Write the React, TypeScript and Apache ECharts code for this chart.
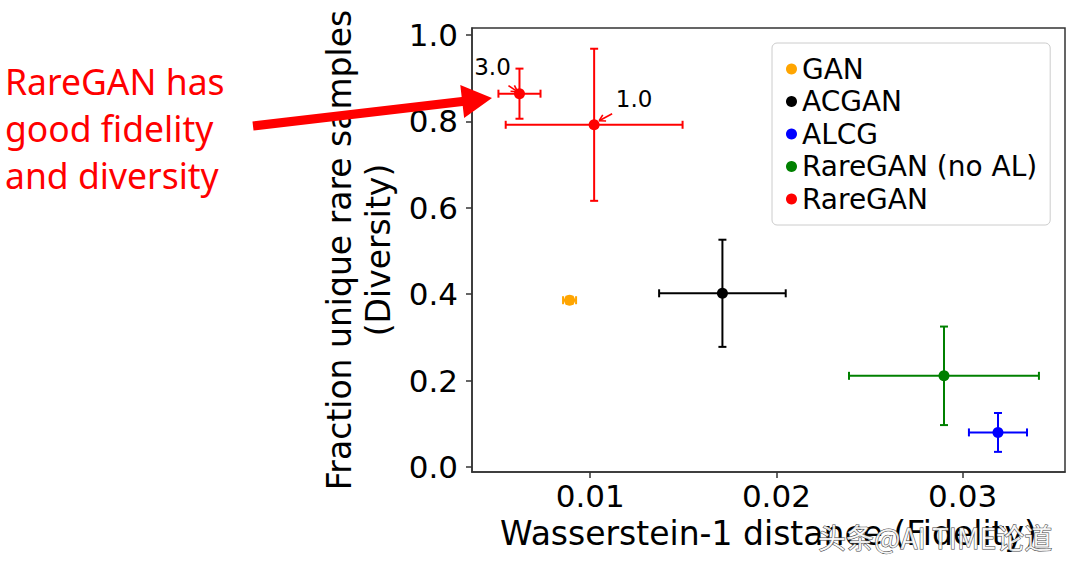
import React, { useEffect, useRef } from "react";
import * as echarts from "echarts";

// ---- data ----
const methods = ["GAN", "ACGAN", "ALCG", "RareGAN (no AL)", "RareGAN"];
const colors = ["#FFA500", "#000000", "#0000FF", "#008000", "#FF0000"];
// [x (W1 distance), y (diversity), xErr, yErr]
const ganData = [[0.00889, 0.386, 0.00035, 0.008]];
const acganData = [[0.0171, 0.402, 0.0034, 0.124]];
const alcgData = [[0.0319, 0.08, 0.00156, 0.045]];
const noAlData = [[0.029, 0.211, 0.0051, 0.114]];
const rareganData = [
  [0.01021, 0.792, 0.00475, 0.176],
  [0.0062, 0.864, 0.00113, 0.058],
];
const rareganLabels = ["1.0", "3.0"];
const xTicks = [0.01, 0.02, 0.03];
const yTicks = [0, 0.2, 0.4, 0.6, 0.8, 1.0];
const xRange = [0.00365, 0.0355];
const yRange = [-0.0116, 1.016];

const FONT = "DejaVu Sans";
// label offsets (px) relative to the point: text centre, arrow start, arrow end
const annot: Record<string, { t: number[]; s: number[]; e: number[] }> = {
  "1.0": { t: [40, -26], s: [18, -11], e: [5, -4] },
  "3.0": { t: [-27, -27], s: [-11, -8], e: [-2, -2] },
};

function arrowLines(s: number[], e: number[], color: string) {
  const dx = e[0] - s[0];
  const dy = e[1] - s[1];
  const len = Math.sqrt(dx * dx + dy * dy);
  const ux = dx / len, uy = dy / len;
  const hl = 6, hw = 3.5;
  const bx = e[0] - ux * hl, by = e[1] - uy * hl;
  const nx = -uy, ny = ux;
  const st = { stroke: color, lineWidth: 1.6 };
  return [
    { type: "line", shape: { x1: s[0], y1: s[1], x2: e[0], y2: e[1] }, style: st },
    { type: "line", shape: { x1: bx + nx * hw, y1: by + ny * hw, x2: e[0], y2: e[1] }, style: st },
    { type: "line", shape: { x1: bx - nx * hw, y1: by - ny * hw, x2: e[0], y2: e[1] }, style: st },
  ];
}

function makeRender(labels?: string[]) {
  return (params: any, api: any) => {
    const x = api.value(0), y = api.value(1), xe = api.value(2), ye = api.value(3);
    const color = api.visual("color");
    const c = api.coord([x, y]);
    const l = api.coord([x - xe, y]);
    const r = api.coord([x + xe, y]);
    const t = api.coord([x, y + ye]);
    const b = api.coord([x, y - ye]);
    const cap = 4;
    const st = { stroke: color, lineWidth: 2 };
    const children: any[] = [
      { type: "line", shape: { x1: l[0], y1: l[1], x2: r[0], y2: r[1] }, style: st },
      { type: "line", shape: { x1: t[0], y1: t[1], x2: b[0], y2: b[1] }, style: st },
      { type: "line", shape: { x1: l[0], y1: l[1] - cap, x2: l[0], y2: l[1] + cap }, style: st },
      { type: "line", shape: { x1: r[0], y1: r[1] - cap, x2: r[0], y2: r[1] + cap }, style: st },
      { type: "line", shape: { x1: t[0] - cap, y1: t[1], x2: t[0] + cap, y2: t[1] }, style: st },
      { type: "line", shape: { x1: b[0] - cap, y1: b[1], x2: b[0] + cap, y2: b[1] }, style: st },
      { type: "circle", shape: { cx: c[0], cy: c[1], r: 5.5 }, style: { fill: color } },
    ];
    if (labels) {
      const lab = labels[params.dataIndex];
      const a = annot[lab];
      if (a) {
        children.push({
          type: "text",
          style: {
            text: lab,
            x: c[0] + a.t[0],
            y: c[1] + a.t[1],
            align: "center",
            verticalAlign: "middle",
            fontSize: 23,
            fontFamily: FONT,
            fill: "#000",
          },
        });
        children.push(
          ...arrowLines([c[0] + a.s[0], c[1] + a.s[1]], [c[0] + a.e[0], c[1] + a.e[1]], color)
        );
      }
    }
    return { type: "group", children };
  };
}

const seriesData = [ganData, acganData, alcgData, noAlData, rareganData];

function bigArrow() {
  const S = [253, 126];
  const T = [492, 98];
  const dx = T[0] - S[0], dy = T[1] - S[1];
  const len = Math.sqrt(dx * dx + dy * dy);
  const ux = dx / len, uy = dy / len;
  const nx = -uy, ny = ux;
  const hl = 30, hw = 16.5, sw = 4.5;
  const B = [T[0] - ux * hl, T[1] - uy * hl];
  return [
    [S[0] + nx * sw, S[1] + ny * sw],
    [B[0] + nx * sw, B[1] + ny * sw],
    [B[0] + nx * hw, B[1] + ny * hw],
    [T[0], T[1]],
    [B[0] - nx * hw, B[1] - ny * hw],
    [B[0] - nx * sw, B[1] - ny * sw],
    [S[0] - nx * sw, S[1] - ny * sw],
  ];
}

export default function App() {
  const ref = useRef<HTMLDivElement>(null);
  useEffect(() => {
    if (!ref.current) return;
    const chart = echarts.init(ref.current, undefined, { renderer: "svg" });
    const axisLineStyle = { color: "#333", width: 1.5 };
    chart.setOption({
      animation: false,
      backgroundColor: "#fff",
      grid: {
        left: 472,
        right: 15,
        top: 28,
        bottom: 94,
        show: true,
        borderColor: "#333",
        borderWidth: 1.5,
        backgroundColor: "transparent",
      },
      xAxis: {
        type: "value",
        min: xRange[0],
        max: xRange[1],
        axisLine: { show: true, onZero: false, lineStyle: axisLineStyle },
        axisTick: { show: true, customValues: xTicks, length: 6, lineStyle: axisLineStyle },
        axisLabel: {
          customValues: xTicks,
          fontSize: 31,
          fontFamily: FONT,
          color: "#000",
          margin: 8,
          formatter: (v: number) => v.toFixed(2),
        },
        splitLine: { show: false },
        name: "Wasserstein-1 distance (Fidelity)",
        nameLocation: "middle",
        nameGap: 45,
        nameTextStyle: { fontSize: 33, fontFamily: FONT, color: "#000", verticalAlign: "top" },
      },
      yAxis: {
        type: "value",
        min: yRange[0],
        max: yRange[1],
        axisLine: { show: true, onZero: false, lineStyle: axisLineStyle },
        axisTick: { show: true, customValues: yTicks, length: 6, lineStyle: axisLineStyle },
        axisLabel: {
          customValues: yTicks,
          fontSize: 31,
          fontFamily: FONT,
          color: "#000",
          margin: 14,
          formatter: (v: number) => v.toFixed(1),
        },
        splitLine: { show: false },
        name: "Fraction unique rare samples\n(Diversity)",
        nameLocation: "middle",
        nameRotate: 90,
        nameGap: 74,
        nameTextStyle: { fontSize: 33, fontFamily: FONT, color: "#000", lineHeight: 39, align: "center" },
      },
      legend: {
        orient: "vertical",
        left: 772,
        top: 43,
        padding: [12, 13, 12, 14],
        itemGap: 4.5,
        itemWidth: 11,
        itemHeight: 11,
        icon: "circle",
        borderColor: "#ccc",
        borderWidth: 1,
        borderRadius: 5,
        backgroundColor: "rgba(255,255,255,0.85)",
        textStyle: { fontSize: 28, fontFamily: FONT, color: "#000", lineHeight: 28 },
        data: methods,
      },
      series: methods.map((m, i) => ({
        type: "custom",
        name: m,
        data: seriesData[i],
        itemStyle: { color: colors[i] },
        encode: { x: 0, y: 1 },
        renderItem: makeRender(i === 4 ? rareganLabels : undefined),
        z: 3,
      })),
      graphic: [
        {
          type: "polygon",
          shape: { points: bigArrow() },
          style: { fill: "#FF0000" },
          z: 100,
        },
        {
          type: "text",
          style: {
            text: "RareGAN has\ngood fidelity\nand diversity",
            x: 5,
            y: 57,
            fontSize: 35.5,
            lineHeight: 47,
            fontFamily: "Noto Sans",
            fill: "#FF0000",
            verticalAlign: "top",
          },
          z: 100,
        },
        {
          type: "text",
          style: {
            text: "头条@AI TIME论道",
            x: 818,
            y: 537,
            fontSize: 28,
            fontFamily: "Noto Sans CJK SC",
            fill: "rgba(255,255,255,0.9)",
            stroke: "#444",
            lineWidth: 1,
            verticalAlign: "middle",
          },
          z: 100,
        },
      ],
    });
    return () => chart.dispose();
  }, []);
  return (
    <div
      ref={ref}
      style={{ position: "absolute", left: 0, top: 0, width: 1080, height: 566 }}
    />
  );
}
